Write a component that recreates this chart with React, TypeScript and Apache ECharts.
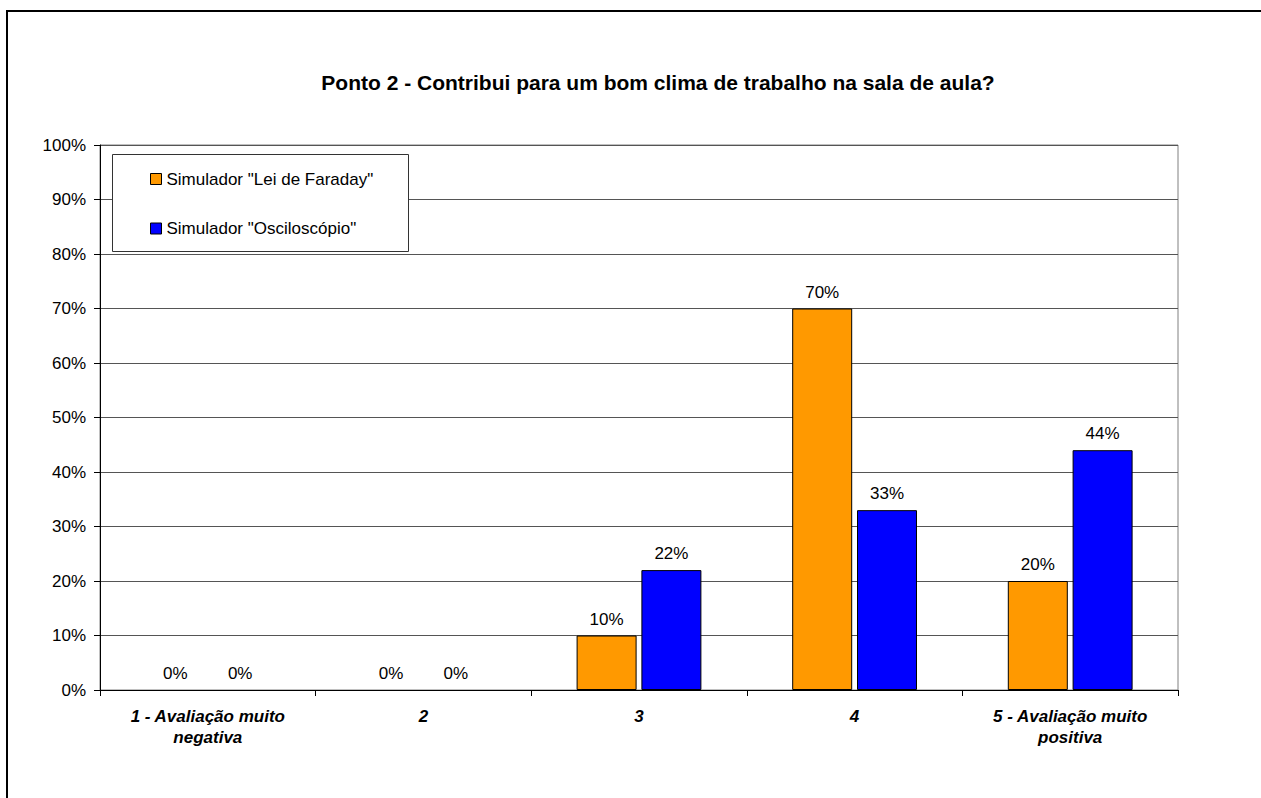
import React, { useEffect, useRef } from "react";
import * as echarts from "echarts";

const categories = [
  "1 - Avaliação muito\nnegativa",
  "2",
  "3",
  "4",
  "5 - Avaliação muito\npositiva",
];
const seriesNames = ['Simulador "Lei de Faraday"', 'Simulador "Osciloscópio"'];
const faradayValues = [0, 0, 10, 70, 20];
const osciloscopioValues = [0, 0, 22, 33, 44];
const yTicks = [0, 10, 20, 30, 40, 50, 60, 70, 80, 90, 100];

const FONT = "'Liberation Sans', Arial, sans-serif";

// zero-height bars get no outline so only their label shows
const toBarData = (values: number[]) =>
  values.map((v) => (v === 0 ? { value: v, itemStyle: { borderWidth: 0 } } : v));

export default function App() {
  const ref = useRef<HTMLDivElement>(null);

  useEffect(() => {
    if (!ref.current) return;
    const chart = echarts.init(ref.current, undefined, { renderer: "svg" });

    const barLabel = {
      show: true,
      position: "top",
      distance: 8,
      fontSize: 17,
      fontFamily: FONT,
      color: "#000",
      formatter: (p: any) => `${p.value}%`,
    };

    chart.setOption({
      animation: false,
      backgroundColor: "#fff",
      textStyle: { fontFamily: FONT },
      title: {
        text: "Ponto 2 - Contribui para um bom clima de trabalho na sala de aula?",
        left: 653,
        top: 67,
        textAlign: "center",
        textStyle: { fontSize: 21, fontWeight: "bold", color: "#000", fontFamily: FONT },
      },
      graphic: [
        {
          type: "polyline",
          z: 0,
          silent: true,
          shape: { points: [[7, 820], [7, 11], [1300, 11]] },
          style: { fill: "none", stroke: "#000", lineWidth: 2 },
        },
        {
          type: "rect",
          z: 3,
          silent: true,
          shape: { x: 112.5, y: 154.5, width: 296, height: 97 },
          style: { fill: "#fff", stroke: "#333", lineWidth: 1 },
        },
      ],
      legend: {
        orient: "vertical",
        left: 150,
        top: 170.5,
        padding: 0,
        z: 4,
        itemWidth: 11,
        itemHeight: 11,
        itemGap: 32.5,
        icon: "rect",
        data: seriesNames,
        itemStyle: { borderColor: "#000", borderWidth: 1 },
        textStyle: { fontSize: 17, lineHeight: 16, color: "#000", fontFamily: FONT },
      },
      grid: {
        left: 100,
        top: 145,
        right: 83,
        bottom: 108,
        show: true,
        borderColor: "#808080",
        borderWidth: 1,
      },
      xAxis: {
        type: "category",
        data: categories,
        boundaryGap: true,
        axisLine: { lineStyle: { color: "#000", width: 1 } },
        axisTick: { show: true, length: 6, inside: false, alignWithLabel: false, lineStyle: { color: "#000" } },
        axisLabel: {
          margin: 16,
          fontSize: 17,
          lineHeight: 21,
          fontWeight: "bold",
          fontStyle: "italic",
          color: "#000",
          fontFamily: FONT,
          interval: 0,
        },
        splitLine: { show: false },
      },
      yAxis: {
        type: "value",
        min: yTicks[0],
        max: yTicks[yTicks.length - 1],
        interval: 10,
        axisLine: { show: true, lineStyle: { color: "#000", width: 1 } },
        axisTick: { show: true, length: 6, inside: false, lineStyle: { color: "#000" } },
        axisLabel: {
          margin: 14,
          fontSize: 17,
          color: "#000",
          fontFamily: FONT,
          formatter: "{value}%",
        },
        splitLine: { show: true, lineStyle: { color: "#555", width: 1 } },
      },
      series: [
        {
          name: seriesNames[0],
          type: "bar",
          data: toBarData(faradayValues),
          barWidth: 60,
          barGap: "8%",
          itemStyle: { color: "#FF9900", borderColor: "#000", borderWidth: 1 },
          label: barLabel,
        },
        {
          name: seriesNames[1],
          type: "bar",
          data: toBarData(osciloscopioValues),
          barWidth: 60,
          barGap: "8%",
          itemStyle: { color: "#0000FF", borderColor: "#000", borderWidth: 1 },
          label: barLabel,
        },
      ],
    });

    return () => chart.dispose();
  }, []);

  return (
    <div
      ref={ref}
      style={{ position: "absolute", left: 0, top: 0, width: 1261, height: 798 }}
    />
  );
}
